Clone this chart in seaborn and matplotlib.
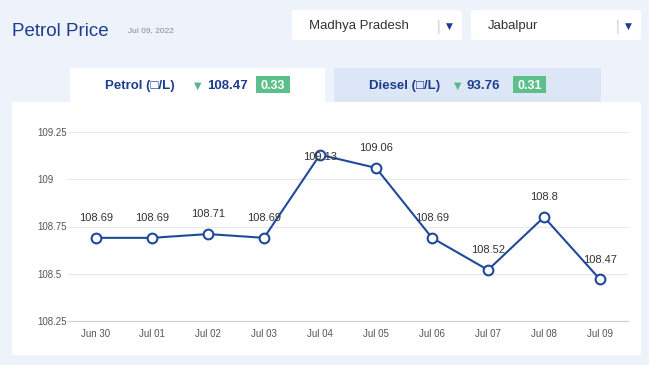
import numpy as np
import pandas as pd
import matplotlib
matplotlib.use("Agg")
import matplotlib.pyplot as plt
from matplotlib.patches import FancyBboxPatch, Rectangle
from matplotlib.ticker import FuncFormatter
import seaborn as sns

# data
dates = ["Jun 30", "Jul 01", "Jul 02", "Jul 03", "Jul 04",
         "Jul 05", "Jul 06", "Jul 07", "Jul 08", "Jul 09"]
prices = [108.69, 108.69, 108.71, 108.69, 109.13,
          109.06, 108.69, 108.52, 108.8, 108.47]
labels = ["108.69", "108.69", "108.71", "108.69", "109.13",
          "109.06", "108.69", "108.52", "108.8", "108.47"]
y_ticks = [108.25, 108.5, 108.75, 109, 109.25]

df = pd.DataFrame({"date": dates, "price": prices})

sns.set_theme(style="white")
plt.rcParams['font.family'] = ['Liberation Sans', 'DejaVu Sans']

W, H = 649, 365
fig = plt.figure(figsize=(W / 100, H / 100), dpi=100)
fig.patch.set_facecolor("#eef2fb")

def px(x, y):
    return x / W, 1 - y / H

def box(x0, y0, x1, y1, color, rounded=True):
    if rounded:
        p = FancyBboxPatch((x0 / W, 1 - y1 / H), (x1 - x0) / W, (y1 - y0) / H,
                           boxstyle="round,pad=0,rounding_size=0.006",
                           transform=fig.transFigure, facecolor=color,
                           edgecolor="none", zorder=-5)
    else:
        p = Rectangle((x0 / W, 1 - y1 / H), (x1 - x0) / W, (y1 - y0) / H,
                      transform=fig.transFigure, facecolor=color,
                      edgecolor="none", zorder=-5)
    fig.patches.append(p)

def label(x, y, s, **kw):
    fig.text(*px(x, y), s, va="center_baseline", **kw)

# header
label(12, 30, "Petrol Price", fontsize=13.5, color="#1c3d8f")
label(128, 30, "Jul 09, 2022", fontsize=6, color="#888888")

# dropdowns
box(292, 10, 462, 40, "white")
box(471, 10, 641, 40, "white")
label(309, 25, "Madhya Pradesh", fontsize=9.5, color="#333333")
label(437, 25, "|", fontsize=10, color="#cccccc")
label(446, 25, "\u25bc", fontsize=6.5, color="#1c3d8f", family="DejaVu Sans")
label(488, 25, "Jabalpur", fontsize=9.5, color="#333333")
label(616, 25, "|", fontsize=10, color="#cccccc")
label(625, 25, "\u25bc", fontsize=6.5, color="#1c3d8f", family="DejaVu Sans")

# tabs
box(70, 68, 325, 104, "white", rounded=False)
box(334, 68, 601, 102, "#dde6f7", rounded=False)
box(12, 102, 641, 355, "white", rounded=False)

ty = 84.5
label(105, ty, "Petrol (\u25a1/L)", fontsize=9.5, fontweight="bold", color="#1c3d8f")
label(194, ty, "\u25bc", fontsize=7, color="#5cb88a", family="DejaVu Sans")
label(207, ty, "108.47", fontsize=9.5, fontweight="bold", color="#1c3d8f")
box(256, 76, 290, 93, "#5cc08a", rounded=False)
label(273, ty, "0.33", fontsize=9, fontweight="bold", color="white", ha="center")

label(369, ty, "Diesel (\u25a1/L)", fontsize=9.5, fontweight="bold", color="#1c3d8f")
label(454, ty, "\u25bc", fontsize=7, color="#5cb88a", family="DejaVu Sans")
label(467, ty, "93.76", fontsize=9.5, fontweight="bold", color="#1c3d8f")
box(513, 76, 546, 93, "#5cc08a", rounded=False)
label(529.5, ty, "0.31", fontsize=9, fontweight="bold", color="white", ha="center")

# chart area
ax = fig.add_axes([68 / W, 1 - 321 / H, (628 - 68) / W, (321 - 132) / H])
ax.set_facecolor("none")
sns.lineplot(data=df, x="date", y="price", ax=ax, color="#1f4a9a", linewidth=1.5,
             marker="o", markersize=7, markerfacecolor="white",
             markeredgecolor="#1f4a9a", markeredgewidth=1.5, clip_on=False, zorder=3)

ax.set_xlim(-0.5, 9.5)
ax.set_ylim(108.25, 109.25)

# value labels above points; if there is no room, label sits on the point
for i, (p, t) in enumerate(zip(prices, labels)):
    if p + 0.16 > 109.25:
        ax.annotate(t, (i, p), xytext=(0, -2), textcoords="offset points",
                    ha="center", va="center", fontsize=8, color="#333333", zorder=4)
    else:
        ax.annotate(t, (i, p), xytext=(0, 10.5), textcoords="offset points",
                    ha="center", va="bottom", fontsize=8, color="#333333", zorder=4)

ax.set_yticks(y_ticks)
ax.yaxis.set_major_formatter(FuncFormatter(lambda v, _: f"{v:g}"))
ax.grid(axis="y", color="#e8e8e8", linewidth=0.8)
ax.grid(axis="x", visible=False)
for s in ["top", "right", "left"]:
    ax.spines[s].set_visible(False)
ax.spines["bottom"].set_color("#d0d0d0")
ax.spines["bottom"].set_linewidth(0.8)
ax.tick_params(axis="y", length=0, pad=22, labelsize=7, labelcolor="#555555")
ax.tick_params(axis="x", length=0, pad=6, labelsize=7, labelcolor="#555555")
for lbl in ax.get_yticklabels():
    lbl.set_horizontalalignment("left")
ax.set_xlabel("")
ax.set_ylabel("")

fig.savefig("out.png", dpi=100, facecolor=fig.get_facecolor())
